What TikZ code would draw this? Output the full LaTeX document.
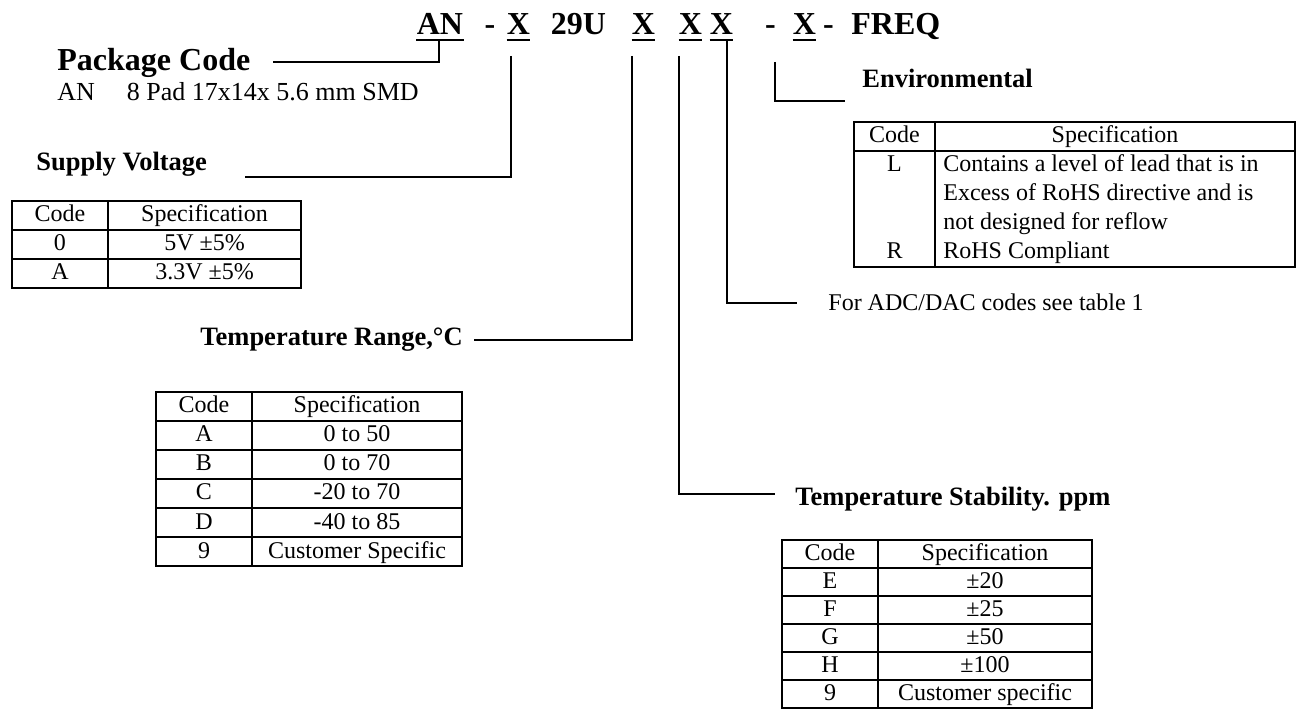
\documentclass[tikz,border=0pt]{standalone}
\usepackage{fontspec}
\setmainfont{Liberation Serif}
\usetikzlibrary{calc}

\begin{document}
\begin{tikzpicture}
[
    x=0.5pt,
    y=-0.5pt,
    font=\fontsize{12}{14.5}\selectfont,
    token/.style={
        anchor=base,
        inner sep=0pt,
        font=\fontsize{16}{19}\selectfont\bfseries
    },
    heading/.style={
        anchor=base west,
        inner sep=0pt,
        font=\fontsize{13.25}{16}\selectfont\bfseries
    },
    plain/.style={
        anchor=base west,
        inner sep=0pt
    },
    cell/.style={
        anchor=base,
        inner sep=0pt
    },
    lead/.style={
        line width=0.8pt
    },
    uline/.style={
        line width=1pt
    },
    grid/.style={
        line width=0.8pt
    }
]

\useasboundingbox (0,0) rectangle (1297,711);

% =====================
% PART NUMBER
% =====================

\node[token] (an) at (440,35) {AN};
\node[token] (dashone) at (490,35) {-};
\node[token] (xvolt) at (518.5,35) {X};
\node[token] (series) at (578.5,35) {29U};
\node[token] (xtemp) at (643.5,35) {X};
\node[token] (xstab) at (690.5,35) {X};
\node[token] (xadc) at (721.5,35) {X};
\node[token] (dashtwo) at (770.5,35) {-};
\node[token] (xenv) at (804.5,35) {X};
\node[token] (dashthree) at (828.5,35) {-};
\node[token, anchor=base west] (freq) at (851,35) {FREQ};

\foreach \t in {an,xvolt,xtemp,xstab,xadc,xenv}
    \draw[uline] ($(\t.base west)+(0,5)$) -- ($(\t.base east)+(0,5)$);

% =====================
% LABELS
% =====================

\node[heading, font=\fontsize{16}{19}\selectfont\bfseries] (package) at (57,71) {Package Code};
\node[plain, font=\fontsize{13}{16}\selectfont] (packagetext) at (57,101) {AN\hspace{16pt}8 Pad 17x14x 5.6 mm SMD};

\node[heading] (supply) at (36,171) {Supply Voltage};
\node[heading] (trange) at (200,346) {Temperature Range,°C};
\node[heading] (tstab) at (795,505) {Temperature Stability. ppm};
\node[heading] (envir) at (862,88) {Environmental};
\node[plain] (adc) at (828,311) {For ADC/DAC codes see table 1};

% =====================
% LEADERS
% =====================

\draw[lead] ($(an.base)+(-1,5)$) |- ($(package.base east)+(22,-9)$);
\draw[lead] ($(xvolt.base)+(-7.5,21)$) |- ($(supply.base east)+(38,6)$);
\draw[lead] ($(xtemp.base)+(-11.5,21)$) |- ($(trange.base east)+(11,-6)$);
\draw[lead] ($(xstab.base)+(-11.5,21)$) |- ($(tstab.base west)+(-20,-11)$);
\draw[lead] ($(xadc.base)+(5.5,5)$) |- ($(adc.base west)+(-31,-8)$);
\draw[lead] ($(xenv.base)+(-29.5,27)$) |- ($(envir.base west)+(-17,13)$);

% =====================
% SUPPLY VOLTAGE TABLE
% =====================

\draw[grid] (12,201) rectangle (301,288);
\draw[grid] (108,201) -- (108,288);
\foreach \y in {230,259}
    \draw[grid] (12,\y) -- (301,\y);
\foreach \c/\s [count=\i] in {Code/Specification, 0/5V ±5\%, A/3.3V ±5\%}
{
    \node[cell] (svcode\i) at (60,{193+29*\i}) {\c};
    \node[cell] (svspec\i) at (204.5,{193+29*\i}) {\s};
}

% =====================
% TEMPERATURE RANGE TABLE
% =====================

\draw[grid] (156,392) rectangle (462,566);
\draw[grid] (252,392) -- (252,566);
\foreach \y in {421,450,479,508,537}
    \draw[grid] (156,\y) -- (462,\y);
\foreach \c/\s [count=\i] in {Code/Specification, A/0 to 50, B/0 to 70, C/-20 to 70, D/-40 to 85, 9/Customer Specific}
{
    \node[cell] (trcode\i) at (204,{384+29*\i}) {\c};
    \node[cell] (trspec\i) at (357,{384+29*\i}) {\s};
}

% =====================
% TEMPERATURE STABILITY TABLE
% =====================

\draw[grid] (782,540) rectangle (1092,708);
\draw[grid] (878,540) -- (878,708);
\foreach \y in {568,596,624,652,680}
    \draw[grid] (782,\y) -- (1092,\y);
\foreach \c/\s [count=\i] in {Code/Specification, E/±20, F/±25, G/±50, H/±100, 9/Customer specific}
{
    \node[cell] (tscode\i) at (830,{532+28*\i}) {\c};
    \node[cell] (tsspec\i) at (985,{532+28*\i}) {\s};
}

% =====================
% ENVIRONMENTAL TABLE
% =====================

\draw[grid] (854,122) rectangle (1295,267);
\draw[grid] (935,122) -- (935,267);
\draw[grid] (854,151) -- (1295,151);
\node[cell] (envcode) at (894.5,143) {Code};
\node[cell] (envspec) at (1115,143) {Specification};
\node[cell] (envl) at (894.5,172) {L};
\node[cell] (envr) at (894.5,259) {R};
\foreach \s [count=\i] in {Contains a level of lead that is in, Excess of RoHS directive and is, not designed for reflow, RoHS Compliant}
    \node[plain] (envline\i) at (943,{143+29*\i}) {\s};

\end{tikzpicture}
\end{document}
